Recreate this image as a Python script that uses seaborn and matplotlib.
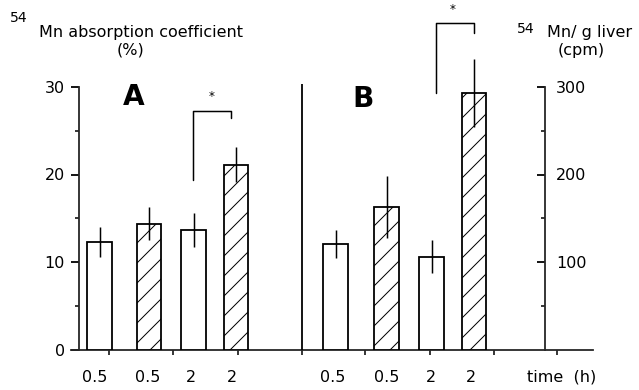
import numpy as np
import pandas as pd
import matplotlib
matplotlib.use("Agg")
import matplotlib.pyplot as plt
from matplotlib.ticker import FixedLocator, NullFormatter
import seaborn as sns

# ---------------- data ----------------
time_labels = ["0.5", "0.5", "2", "2"]
groups = ["open", "hatched", "open", "hatched"]
absorption_pct = [12.3, 14.4, 13.7, 21.1]      # panel A, left axis (%)
absorption_err = [1.7, 1.9, 1.95, 2.0]
liver_cpm = [121, 163, 106, 293]               # panel B, right axis (cpm)
liver_err = [16, 35, 19, 39]
left_ticks = [0, 10, 20, 30]
left_minor = [5, 15, 25]
right_ticks = [100, 200, 300]
right_minor = [50, 150, 250]

# ---------------- style ----------------
DPI = 60
S = 72 / DPI          # points per pixel
sns.set_theme(style="ticks")
plt.rcParams["font.family"] = ["DejaVu Sans"]
plt.rcParams["hatch.linewidth"] = 1.0 * S

W, H = 639, 390
fig = plt.figure(figsize=(W / DPI, H / DPI), dpi=DPI)

# layout (pixel-based)
x0, x1 = 71, 593
y_zero = 349.5
px_per_unit = 8.75
ytop = y_zero / px_per_unit
ax = fig.add_axes([x0 / W, (H - y_zero) / H, (x1 - x0) / W, y_zero / H])

posA = [99.5, 149, 193.5, 236]
posB = [335.5, 386.5, 431.5, 474]
labA = [95, 148, 191, 232]
labB = [333, 387, 431, 471]
bar_px = 24.5
lw = 1.8 * S
elw = 1.5 * S

dfA = pd.DataFrame({"x": posA, "value": absorption_pct, "err": absorption_err,
                    "group": groups, "time": time_labels})
dfB = pd.DataFrame({"x": posB, "value": liver_cpm, "err": liver_err,
                    "group": groups, "time": time_labels})

sns.barplot(data=dfA, x="x", y="value", native_scale=True,
            width=bar_px / np.min(np.diff(posA)), color="white", saturation=1,
            edgecolor="black", linewidth=lw, errorbar=None, ax=ax, zorder=3)
ax.errorbar(dfA["x"], dfA["value"], yerr=dfA["err"], fmt="none",
            ecolor="black", elinewidth=elw, capsize=0, zorder=4)

ax2 = ax.twinx()
sns.barplot(data=dfB, x="x", y="value", native_scale=True,
            width=bar_px / np.min(np.diff(posB)), color="white", saturation=1,
            edgecolor="black", linewidth=lw, errorbar=None, ax=ax2, zorder=3)
ax2.errorbar(dfB["x"], dfB["value"], yerr=dfB["err"], fmt="none",
             ecolor="black", elinewidth=elw, capsize=0, zorder=4)

for a, df in ((ax, dfA), (ax2, dfB)):
    for patch, g in zip(a.patches, df["group"]):
        if g == "hatched":
            patch.set_hatch("/")

ax.set_xlim(x0, x1)
ax.set_ylim(0, ytop)
ax2.set_ylim(0, ytop * 10)
for a in (ax, ax2):
    a.set_xlabel("")
    a.set_ylabel("")
    a.grid(False)

# spines
ax.spines["top"].set_visible(False)
ax.spines["right"].set_visible(False)
ax.spines["left"].set_position(("data", 79))
ax.spines["left"].set_bounds(0, 30)
ax.spines["left"].set_linewidth(lw)
ax.spines["bottom"].set_linewidth(lw)
for s in ("top", "left", "bottom"):
    ax2.spines[s].set_visible(False)
ax2.spines["right"].set_position(("data", 545))
ax2.spines["right"].set_bounds(0, 300)
ax2.spines["right"].set_linewidth(lw)

fs = 16 * S

# left ticks
ax.set_yticks(left_ticks)
ax.yaxis.set_minor_locator(FixedLocator(left_minor))
ax.tick_params(axis="y", which="major", direction="out", length=8 * S, width=lw,
               labelsize=fs, pad=6 * S, left=True, colors="black")
ax.tick_params(axis="y", which="minor", direction="out", length=4 * S, width=lw, left=True)

# right ticks
ax2.set_yticks(right_ticks)
ax2.yaxis.set_minor_locator(FixedLocator(right_minor))
ax2.tick_params(axis="y", which="major", direction="in", length=8 * S, width=lw,
                labelsize=fs, pad=11 * S, right=True, colors="black")
ax2.tick_params(axis="y", which="minor", direction="in", length=4 * S, width=lw, right=True)

# bottom ticks (labels sit slightly off bar centres, as in the original)
ax.set_xticks(labA + labB)
ax.set_xticklabels(time_labels + time_labels)
ax.xaxis.set_minor_locator(FixedLocator([109, 173, 238, 302, 365, 430, 494, 557]))
ax.xaxis.set_minor_formatter(NullFormatter())
ax.tick_params(axis="x", which="major", length=0, labelsize=fs, pad=20 * S, colors="black")
ax.tick_params(axis="x", which="minor", direction="out", length=5 * S, width=lw, bottom=True)

# panel divider
ax.vlines(302, 0, 30.3, color="black", lw=lw, zorder=3)

# significance brackets
ax.plot([192.7, 192.7, 231, 231], [19.4, 27.3, 27.3, 26.5], color="black", lw=elw, zorder=4)
ax.text(212, 28.9, "*", ha="center", va="center", fontsize=12 * S, color="black")
ax.plot([435.7, 435.7, 474.3, 474.3], [29.3, 37.3, 37.3, 36.2], color="black", lw=elw,
        zorder=4, clip_on=False)
ax.text(453, 38.8, "*", ha="center", va="center", fontsize=12 * S, color="black", clip_on=False)

# panel letters
ax.text(134, (y_zero - 97) / px_per_unit, "A", ha="center", va="center",
        fontsize=28 * S, fontweight="bold", color="black")
ax.text(363, (y_zero - 99) / px_per_unit, "B", ha="center", va="center",
        fontsize=28 * S, fontweight="bold", color="black")


def ftext(x, y, s, size):
    return fig.text(x / W, 1 - y / H, s, color="black", fontsize=size * S, va="center",
                    ha="left")


# axis titles
ftext(10, 18, "54", 14)
ftext(39, 33, "Mn absorption coefficient", 16)
fig.text(131 / W, 1 - 50 / H, "(%)", ha="center", va="center", fontsize=fs, color="black")
ftext(517, 29, "54", 14)
ftext(547, 33, "Mn/ g liver", 16)
fig.text(581 / W, 1 - 50 / H, "(cpm)", ha="center", va="center", fontsize=fs, color="black")
fig.text(562 / W, 1 - 377 / H, "time  (h)", ha="center", va="center", fontsize=fs, color="black")

fig.savefig("out.png", dpi=DPI)
